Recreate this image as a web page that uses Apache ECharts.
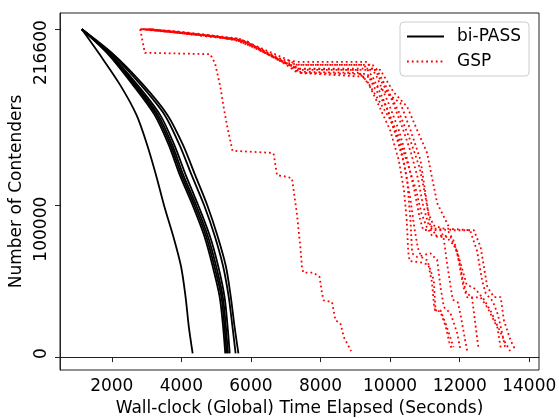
<!DOCTYPE html>
<html>
<head>
<meta charset="utf-8">
<script src="https://cdn.jsdelivr.net/npm/echarts@6/dist/echarts.min.js"></script>
<style>
html,body{margin:0;padding:0;background:#fff;}
#chart{width:559px;height:418px;}
</style>
</head>
<body>
<div id="chart"></div>
<script>
// ---- data ----
var xTicks = [2000, 4000, 6000, 8000, 10000, 12000, 14000];
var yTicks = [0, 100000, 216600];

// bi-PASS: x positions of each run at shared contender levels
var biLevels = [216600, 200000, 180000, 160000, 140000, 120000, 100000, 80000, 60000, 40000, 20000, 2500];
var biRun0 = [1140, 1650, 2235, 2710, 3020, 3275, 3505, 3765, 3990, 4120, 4215, 4325];
var biRun1 = [1140, 1900, 2600, 3230, 3640, 3960, 4330, 4660, 4900, 5100, 5200, 5262];
var biRun2 = [1140, 1920, 2640, 3280, 3690, 4010, 4380, 4710, 4950, 5150, 5240, 5300];
var biRun3 = [1140, 1940, 2680, 3330, 3740, 4060, 4430, 4760, 5000, 5190, 5280, 5340];
var biRun4 = [1140, 1960, 2730, 3390, 3800, 4130, 4490, 4820, 5060, 5240, 5330, 5390];
var biRun5 = [1140, 2010, 2830, 3520, 3950, 4300, 4660, 4960, 5200, 5360, 5470, 5560];
var biRun6 = [1140, 2050, 2900, 3600, 4050, 4400, 4750, 5040, 5280, 5420, 5530, 5640];
var biRuns = [biRun0, biRun1, biRun2, biRun3, biRun4, biRun5, biRun6];

// GSP runs: [seconds, contenders]
var gsp0 = [[2817,216600],[2950,201000],[4830,200100],[4970,194000],[5120,178600],[5230,163200],[5340,150000],[5470,136300],[6530,135000],[6650,134600],[6750,120200],[7050,119100],[7180,118000],[7320,94900],[7420,72800],[7470,58500],[7510,55800],[7800,55800],[7975,52900],[8045,41900],[8090,37500],[8330,36400],[8430,24300],[8570,22500],[8670,13200],[8880,4000]];
var gsp1 = [[2820,216600],[3500,215000],[4600,212800],[5400,210500],[6000,206500],[6700,198000],[7300,188500],[9100,187700],[9350,182000],[9700,165000],[10000,150000],[10250,130000],[10400,110000],[10480,90000],[10520,70000],[10560,63500],[10900,62500],[11100,61000],[11200,50000],[11260,35000],[11290,31000],[11450,30000],[11600,20000],[11700,10000],[11790,4500]];
var gsp2 = [[2900,216600],[3800,214500],[4700,212000],[5500,210000],[6100,205000],[6800,196000],[7350,190500],[9050,189700],[9400,180000],[10010,156700],[10300,139000],[10490,116900],[10585,90400],[10634,68600],[10780,66200],[11161,68600],[11354,64000],[11449,46300],[11545,33100],[11737,28900],[11930,15700],[12025,4400]];
var gsp3 = [[3100,216600],[4000,214000],[5000,211500],[5600,209000],[6200,203500],[6900,195000],[7400,193000],[9250,193000],[9500,185000],[9850,168000],[10150,148000],[10400,128000],[10580,105000],[10700,85000],[10800,72000],[10900,66000],[11066,64000],[11257,50700],[11305,30900],[11449,30900],[11600,22000],[11822,6600]];
var gsp4 = [[2850,216600],[3600,215000],[4800,212500],[5700,209500],[6300,203000],[7000,194500],[7400,187700],[9430,185000],[9520,181000],[10297,167800],[10585,150000],[10873,130200],[11017,108300],[11161,85800],[11354,79400],[11737,79400],[11930,68600],[12110,46100],[12217,39500],[12601,39500],[12794,32900],[13081,19700],[13177,6400]];
var gsp5 = [[3000,216600],[3900,214500],[4900,212000],[5800,209000],[6400,201000],[7100,193000],[7450,189700],[9720,189700],[10100,175000],[10490,165400],[10778,150000],[11066,134800],[11161,123500],[11354,101700],[11737,83800],[12407,83800],[12601,72800],[12794,46300],[12986,39700],[13177,39700],[13271,24300],[13465,11000],[13609,4400]];
var gsp6 = [[2950,216600],[3700,215500],[4700,213000],[5600,210500],[6200,204500],[6900,196500],[7350,195000],[9350,195000],[9600,186000],[9950,168000],[10250,150000],[10500,130000],[10700,110000],[10850,92000],[10950,84000],[11450,83800],[11530,80000],[11650,60000],[11750,45000],[11800,38000],[11950,36000],[12050,25000],[12150,12000],[12217,4000]];
var gsp7 = [[3050,216600],[3900,215000],[4800,212300],[5700,210000],[6300,204000],[7000,197000],[7330,193000],[9500,193000],[9700,184000],[10050,170000],[10350,152000],[10600,135000],[10800,118000],[10950,100000],[11100,88000],[11250,85000],[11650,84000],[11850,76000],[12000,62000],[12100,50000],[12200,42000],[12350,40000],[12450,22000],[12540,6000]];
var gsp8 = [[2900,216600],[3700,214800],[4700,212000],[5600,209800],[6300,202000],[7100,193500],[7400,190500],[9600,190500],[9900,178000],[10250,162000],[10600,142000],[10850,125000],[11000,108000],[11100,95000],[11250,87000],[11500,85000],[11900,84500],[12300,83800],[12500,70000],[12650,50000],[12750,42000],[12950,37000],[13100,28000],[13200,18000],[13320,5000]];
var gsp9 = [[3150,216600],[4100,214000],[5100,211300],[5900,208500],[6500,200000],[7200,192000],[7450,187700],[9350,187000],[9500,180000],[9900,165000],[10250,145000],[10500,128000],[10750,110000],[10900,95000],[11050,86000],[11200,80500],[11600,80000],[11900,72000],[12050,60000],[12200,48000],[12450,45000],[12700,38000],[12900,30000],[13100,20000],[13300,10000],[13450,4000]];
var gspRuns = [gsp0, gsp1, gsp2, gsp3, gsp4, gsp5, gsp6, gsp7, gsp8, gsp9];

// ---- chart ----
var FONT = 'DejaVu Sans';
var FS = 17;
var plain = function (v) { return String(v); };
var series = [];
biRuns.forEach(function (xs) {
  series.push({
    name: 'bi-PASS', type: 'line', symbol: 'none', silent: true,
    smooth: 0.3,
    data: xs.map(function (x, i) { return [x, biLevels[i]]; }),
    lineStyle: { color: '#000000', width: 1.8, type: 'solid' },
    itemStyle: { color: '#000000' }
  });
});
gspRuns.forEach(function (pts) {
  series.push({
    name: 'GSP', type: 'line', symbol: 'none', silent: true,
    data: pts,
    lineStyle: { color: '#ff0000', width: 1.8, type: [1.8, 3] },
    itemStyle: { color: '#ff0000' }
  });
});

var chart = echarts.init(document.getElementById('chart'), null, { renderer: 'canvas' });
chart.setOption({
  animation: false,
  backgroundColor: '#ffffff',
  grid: { left: 60, right: 20, top: 13, bottom: 48, show: true, borderColor: '#222', borderWidth: 1, backgroundColor: 'transparent', outerBoundsMode: 'none', containLabel: false },
  legend: {
    data: ['bi-PASS', 'GSP'],
    orient: 'vertical', left: 400, top: 22,
    padding: [6, 8, 6, 6], itemGap: 8,
    itemWidth: 37, itemHeight: 14,
    borderColor: '#cccccc', borderWidth: 1, borderRadius: 4,
    backgroundColor: 'rgba(255,255,255,0.8)',
    itemStyle: { opacity: 0 },
    textStyle: { fontFamily: FONT, fontSize: FS, color: '#000', padding: [0, 0, 0, 8] }
  },
  xAxis: {
    type: 'value', min: 512, max: 14280,
    name: 'Wall-clock (Global) Time Elapsed (Seconds)',
    nameLocation: 'middle', nameGap: 30,
    nameTextStyle: { fontFamily: FONT, fontSize: FS, color: '#000' },
    axisLine: { show: true, lineStyle: { color: '#222', width: 1 } },
    axisTick: { show: true, length: 5, lineStyle: { color: '#222' }, customValues: xTicks },
    axisLabel: { fontFamily: FONT, fontSize: FS, color: '#000', margin: 8, formatter: plain, customValues: xTicks },
    splitLine: { show: false }
  },
  yAxis: {
    type: 'value', min: -8500, max: 227300,
    name: 'Number of Contenders',
    nameLocation: 'middle', nameGap: 32,
    nameTextStyle: { fontFamily: FONT, fontSize: FS, color: '#000' },
    axisLine: { show: true, lineStyle: { color: '#222', width: 1 } },
    axisTick: { show: true, length: 5, lineStyle: { color: '#222' }, customValues: yTicks },
    axisLabel: {
      fontFamily: FONT, fontSize: FS, color: '#000', margin: 10, rotate: 90,
      align: 'right', verticalAlign: 'bottom', padding: [0, -9, 0, 0],
      formatter: plain, customValues: yTicks
    },
    splitLine: { show: false }
  },
  series: series
});
</script>
</body>
</html>
